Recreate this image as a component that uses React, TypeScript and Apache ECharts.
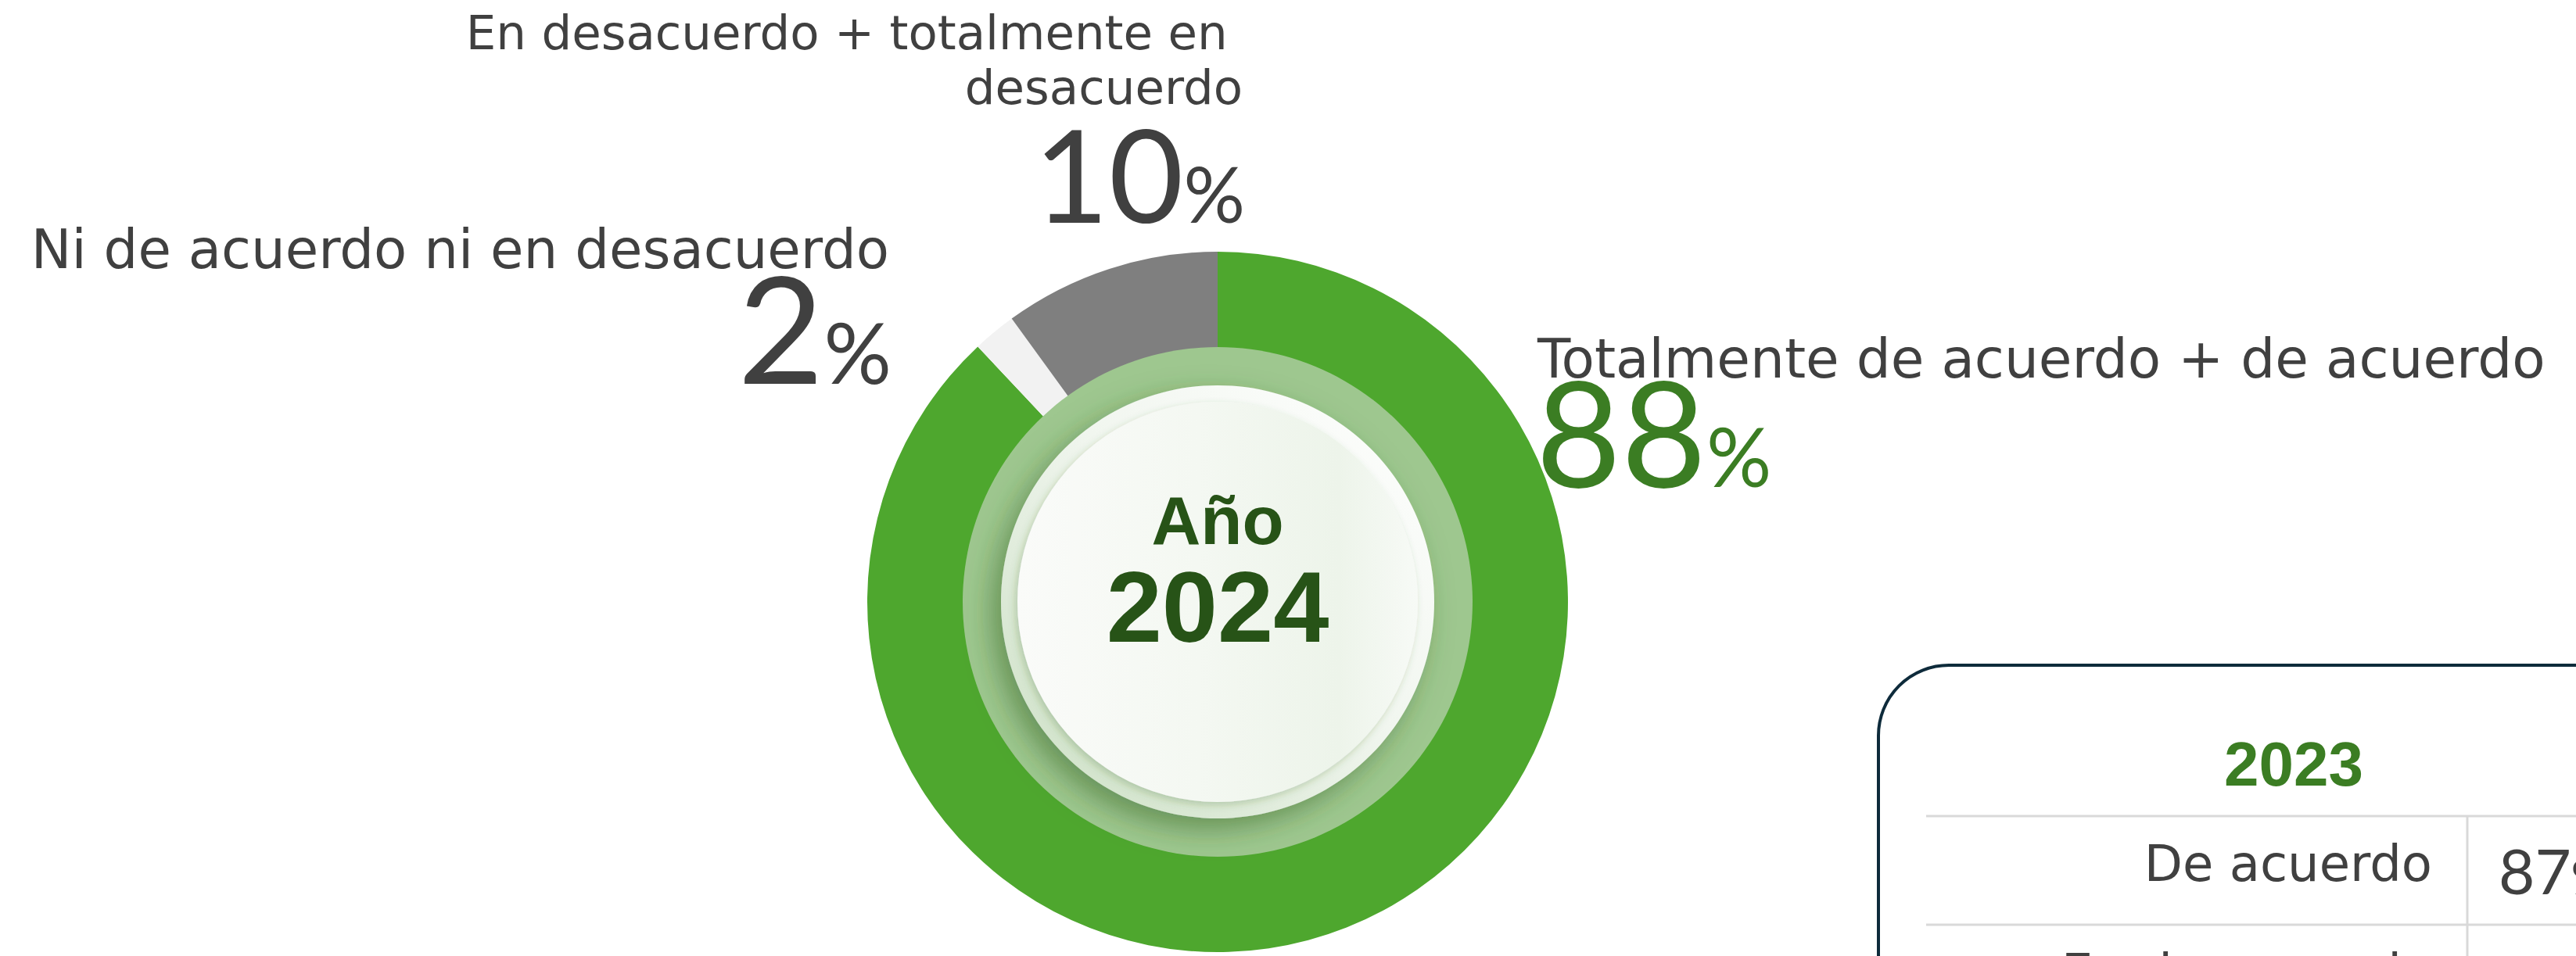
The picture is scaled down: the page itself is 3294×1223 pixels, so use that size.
import React, { useEffect, useRef } from "react";
import * as echarts from "echarts";

// ---- data ----
const categories = [
  "Totalmente de acuerdo + de acuerdo",
  "Ni de acuerdo ni en desacuerdo",
  "En desacuerdo + totalmente en desacuerdo",
];
const values2024 = [88, 2, 10];
const centerLabel = "Año";
const centerYear = "2024";
const compareYear = "2023";
const compareRows = ["De acuerdo", "En desacuerdo"];
const compareValues = [87]; // second row value is outside the picture

// ---- styles / layout ----
const sliceColors = ["#4EA72E", "#F2F2F2", "#7F7F7F"];
const W = 3294;
const H = 1223;
const CX = 1557;
const CY = 770;
const LABEL_FONT = "'DejaVu Sans', sans-serif";
const NUM_FONT = "Lato, 'Open Sans', sans-serif";
const BOLD_FONT = "'Liberation Sans', Arial, sans-serif";
const GREY_TEXT = "#404040";
const DARK_GREEN = "#3B7D23";

// central baseline offsets (fraction of font size above alphabetic baseline)
const C_DEJAVU = 0.346;
const C_LATO = 0.387;
const C_LIB = 0.3467;
const NUM_LH = 0.62; // tight line box for the big numbers

function pctRich(big: number, small: number, color: string) {
  const ln = big * NUM_LH;
  const hp = ln - 2 * C_LATO * (big - small);
  return {
    n: {
      fontFamily: NUM_FONT,
      fontWeight: 400,
      fontSize: big,
      lineHeight: ln,
      fill: color,
    },
    p: {
      fontFamily: NUM_FONT,
      fontWeight: 400,
      fontSize: small,
      height: hp,
      lineHeight: hp,
      verticalAlign: "bottom",
      fill: color,
    },
  };
}

// place a rich "value%" so that the digits' baseline lands at `baseline`
function pctText(
  value: number,
  x: number,
  baseline: number,
  align: string,
  big: number,
  small: number,
  color: string
) {
  return {
    type: "text",
    x,
    y: baseline - (big * NUM_LH) / 2 - C_LATO * big,
    z: 20,
    silent: true,
    style: {
      text: `{n|${value}}{p|%}`,
      rich: pctRich(big, small, color),
      fill: color,
      align,
      verticalAlign: "top",
    },
  };
}

function labelText(
  text: string,
  x: number,
  baseline: number,
  align: string,
  size: number,
  extra: any = {}
) {
  return {
    type: "text",
    x,
    y: baseline - C_DEJAVU * size,
    z: 20,
    silent: true,
    style: {
      text,
      fontFamily: LABEL_FONT,
      fontSize: size,
      lineHeight: size,
      fill: GREY_TEXT,
      align,
      verticalAlign: "middle",
      ...extra,
    },
  };
}

export default function App() {
  const ref = useRef<HTMLDivElement>(null);

  useEffect(() => {
    document.body.style.margin = "0";
    document.body.style.overflow = "hidden";
    const chart = echarts.init(ref.current!, null, { renderer: "svg" });

    const topLabelSize = 61;
    const topLineHeight = 70;

    const graphic: any[] = [
      // ---- comparison table (2023) ----
      {
        type: "rect",
        z: 1,
        silent: true,
        shape: { x: 2402, y: 851, width: 1200, height: 700, r: 90 },
        style: { fill: "#FFFFFF", stroke: "#0E2B3B", lineWidth: 4 },
      },
      {
        type: "line",
        z: 2,
        silent: true,
        shape: { x1: 2463, y1: 1044, x2: W + 10, y2: 1044 },
        style: { stroke: "#D9D9D9", lineWidth: 3 },
      },
      {
        type: "line",
        z: 2,
        silent: true,
        shape: { x1: 2463, y1: 1183, x2: W + 10, y2: 1183 },
        style: { stroke: "#D9D9D9", lineWidth: 3 },
      },
      {
        type: "line",
        z: 2,
        silent: true,
        shape: { x1: 3155, y1: 1044, x2: 3155, y2: H + 10 },
        style: { stroke: "#D9D9D9", lineWidth: 3 },
      },
      {
        type: "text",
        x: 2933,
        y: 1005 - C_LIB * 80,
        z: 20,
        silent: true,
        style: {
          text: compareYear,
          fontFamily: BOLD_FONT,
          fontWeight: "bold",
          fontSize: 80,
          fill: DARK_GREEN,
          align: "center",
          verticalAlign: "middle",
        },
      },
      ...compareRows.map((row, i) =>
        labelText(row, 3110, 1127 + i * 139, "right", 64)
      ),
      ...compareValues.map((v, i) =>
        pctText(v, 3195, 1144 + i * 139, "left", 80, 60, GREY_TEXT)
      ),

      // ---- slice labels ----
      labelText(categories[0], 1966, 483, "left", 69.3),
      pctText(values2024[0], 1964, 623, "left", 188, 104, DARK_GREEN),

      labelText(categories[1], 1137, 343, "right", 69),
      pctText(values2024[1], 1140, 491, "right", 190, 108, GREY_TEXT),

      {
        type: "text",
        x: 1589,
        y: 63 - C_DEJAVU * topLabelSize - topLineHeight / 2,
        z: 20,
        silent: true,
        style: {
          text: categories[2],
          fontFamily: LABEL_FONT,
          fontSize: topLabelSize,
          lineHeight: topLineHeight,
          fill: GREY_TEXT,
          align: "right",
          verticalAlign: "top",
          width: 1010,
          overflow: "break",
        },
      },
      pctText(values2024[2], 1592, 285, "right", 165, 98, GREY_TEXT),

      // ---- centre disc ----
      {
        type: "circle",
        z: 10,
        silent: true,
        shape: { cx: CX, cy: CY, r: 326 },
        style: { fill: "#9EC78F" },
      },
      {
        type: "circle",
        z: 11,
        silent: true,
        shape: { cx: CX, cy: CY, r: 277 },
        style: {
          fill: new echarts.graphic.LinearGradient(1, 0, 0, 1, [
            { offset: 0, color: "#FFFFFF" },
            { offset: 0.45, color: "#F1F6EF" },
            { offset: 1, color: "#C9DEC1" },
          ]),
          shadowBlur: 34,
          shadowColor: "rgba(45,95,30,0.5)",
          shadowOffsetX: -12,
          shadowOffsetY: 14,
        },
      },
      {
        type: "circle",
        z: 12,
        silent: true,
        shape: { cx: CX, cy: CY, r: 256 },
        style: {
          fill: new echarts.graphic.LinearGradient(0, 0, 1, 0, [
            { offset: 0, color: "#FAFBF9" },
            { offset: 0.45, color: "#F4F8F2" },
            { offset: 0.8, color: "#EDF4EA" },
            { offset: 1, color: "#F7FAF6" },
          ]),
          shadowBlur: 10,
          shadowColor: "rgba(60,110,40,0.25)",
          shadowOffsetX: -3,
          shadowOffsetY: 4,
        },
      },
      {
        type: "text",
        x: CX,
        y: 696 - C_LIB * 87,
        z: 20,
        silent: true,
        style: {
          text: centerLabel,
          fontFamily: BOLD_FONT,
          fontWeight: "bold",
          fontSize: 87,
          fill: "#275317",
          align: "center",
          verticalAlign: "middle",
        },
      },
      {
        type: "text",
        x: CX,
        y: 821 - C_LIB * 128,
        z: 20,
        silent: true,
        style: {
          text: centerYear,
          fontFamily: BOLD_FONT,
          fontWeight: "bold",
          fontSize: 128,
          fill: "#275317",
          align: "center",
          verticalAlign: "middle",
        },
      },
    ];

    chart.setOption({
      animation: false,
      backgroundColor: "#FFFFFF",
      series: [
        {
          type: "pie",
          center: [CX, CY],
          radius: [318, 448],
          startAngle: 90,
          clockwise: true,
          silent: true,
          z: 2,
          label: { show: false },
          labelLine: { show: false },
          emphasis: { disabled: true },
          itemStyle: { borderWidth: 0 },
          data: categories.map((name, i) => ({
            name,
            value: values2024[i],
            itemStyle: { color: sliceColors[i] },
          })),
        },
      ],
      graphic,
    });

    return () => chart.dispose();
  }, []);

  return <div ref={ref} style={{ width: W, height: H }} />;
}
